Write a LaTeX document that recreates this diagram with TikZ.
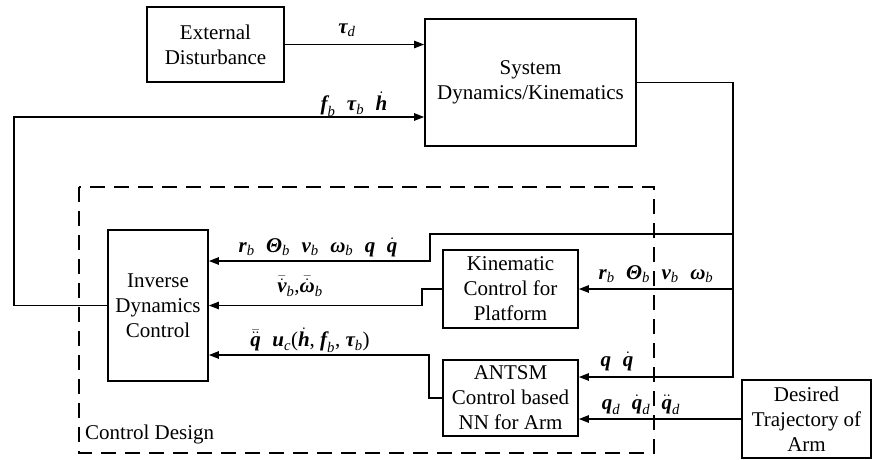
\documentclass[tikz,border=0pt]{standalone}
\usepackage{amsmath}
\usepackage{fontspec}
\setmainfont{Liberation Serif}
\newfontfamily\tnr{Liberation Serif}
\usetikzlibrary{arrows.meta,calc}
% bold italic symbol, italic subscript and upright glyph in the text face
\newcommand{\bv}[1]{\text{\tnr\bfseries\itshape #1}}
\newcommand{\ix}[1]{\text{\tnr\itshape #1}}
\newcommand{\up}[1]{\text{\tnr #1}}
\begin{document}
\begin{tikzpicture}[x=1pt,y=-1pt,
  blk/.style={draw,line width=1.8pt,align=center,inner sep=0pt,
    font=\tnr\fontsize{21}{25}\selectfont},
  arr/.style={line width=1.2pt,-{Triangle[length=10pt,width=7.5pt]}},
  lbl/.style={inner sep=0pt,font=\tnr\fontsize{21}{25}\selectfont}]
\useasboundingbox (0,0) rectangle (873,459);

% blocks
\node[blk,minimum width=137pt,minimum height=75pt] (ext) at (215.5,44.5) {External\\Disturbance};
\node[blk,minimum width=211pt,minimum height=127pt] (sys) at (530.5,82.5) {System\\Dynamics/Kinematics};
\node[blk,minimum width=100pt,minimum height=151pt] (idc) at (158,305.5) {Inverse\\Dynamics\\Control};
\node[blk,minimum width=135pt,minimum height=78pt] (kin) at (510.5,289) {Kinematic\\Control for\\Platform};
\node[blk,minimum width=135pt,minimum height=76pt] (ant) at (510.5,398) {ANTSM\\Control based\\NN for Arm};
\node[blk,minimum width=129pt,minimum height=78pt] (des) at (806.5,419) {Desired\\Trajectory of\\Arm};

% control design frame
\draw[line width=1.8pt,dash pattern=on 15pt off 9pt] (79,187) rectangle (654,453);
\node[lbl,anchor=west] (cd) at (85,434) {Control Design};

% routing points
\coordinate (fb) at (14,117);
\coordinate (busB) at (733,377);
\coordinate (busT) at (733,234);
\coordinate (busK) at (733,289);
\coordinate (j1) at (430,261);
\coordinate (j2) at (422,305.5);
\coordinate (j3) at (429,355);

% connectors
\draw[arr] (ext.east) -- (ext.east -| sys.west);
\draw[arr] (idc.west) -| (fb) -- (fb -| sys.west);
\draw[arr] (sys.east) -| (busB) -- (busB -| ant.east);
\draw[arr] (busK) -- (kin.east);
\draw[arr] (busT) -| (j1) -- (j1 -| idc.east);
\draw[arr] (kin.west) -| (j2) -- (j2 -| idc.east);
\draw[arr] (ant.west) -| (j3) -- (j3 -| idc.east);
\draw[arr] (des.west) -- (des.west -| ant.east);

% signal labels
\node[lbl] (l1) at (347,30) {$\bv{τ}_{\ix{d}}$};
\node[lbl] (l2) at (354,104) {$\bv{f}_{\ix{b}}\;\;\bv{τ}_{\ix{b}}\;\;\dot{\bv{h}}$};
\node[lbl] (l3) at (318,247) {$\bv{r}_{\ix{b}}\;\;\bv{Θ}_{\ix{b}}\;\;\bv{v}_{\ix{b}}\;\;\bv{ω}_{\ix{b}}\;\;\bv{q}\;\;\dot{\bv{q}}$};
\node[lbl] (l4) at (300,286) {$\bar{\dot{\bv{v}}}_{\ix{b}}\up{,}\bar{\dot{\bv{ω}}}_{\ix{b}}$};
\node[lbl] (l5) at (310,340) {$\bar{\ddot{\bv{q}}}\;\;\bv{u}_{\ix{c}}\up{(}\dot{\bv{h}}\up{, }\bv{f}_{\ix{b}}\up{, }\bv{τ}_{\ix{b}}\up{)}$};
\node[lbl] (l6) at (656,274) {$\bv{r}_{\ix{b}}\;\;\bv{Θ}_{\ix{b}}\;\;\bv{v}_{\ix{b}}\;\;\bv{ω}_{\ix{b}}$};
\node[lbl] (l7) at (617,361) {$\bv{q}\;\;\dot{\bv{q}}$};
\node[lbl] (l8) at (641,405) {$\bv{q}_{\ix{d}}\;\;\dot{\bv{q}}_{\ix{d}}\;\;\ddot{\bv{q}}_{\ix{d}}$};
\end{tikzpicture}
\end{document}
